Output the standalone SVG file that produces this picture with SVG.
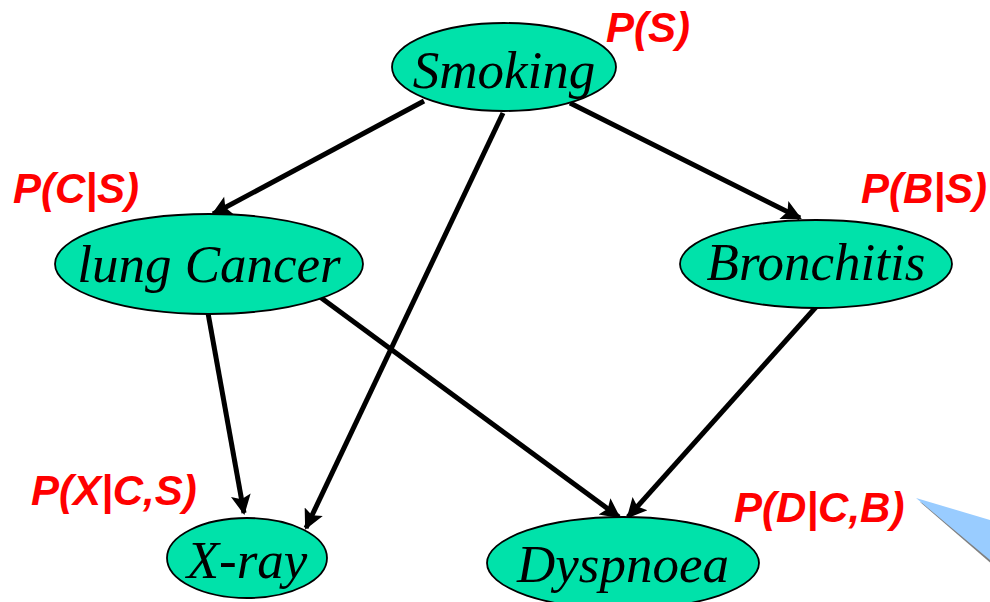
<svg xmlns="http://www.w3.org/2000/svg" width="990" height="602" viewBox="0 0 990 602">
<style>
.node{fill:#00E2AA;stroke:#000;stroke-width:1.8}
.nt{font-family:"Liberation Serif",serif;font-style:italic;font-size:53px;fill:#000;text-anchor:middle}
.pl{font-family:"Liberation Sans",Arial,sans-serif;font-style:italic;font-weight:bold;font-size:42px;fill:#FF0000}
.edge{stroke:#000;stroke-width:5;fill:none;marker-end:url(#ah)}
</style>
<defs>
<marker id="ah" viewBox="0 0 10 10" refX="9" refY="5" markerWidth="4.4" markerHeight="4" orient="auto" markerUnits="strokeWidth">
<path d="M0,0 L10,5 L0,10 L2,5 z" fill="#000"/>
</marker>
</defs>
<rect width="990" height="602" fill="#fff"/>
<g id="callout">
<polygon points="920,502 994,524 994,566" fill="#808080"/>
<polygon points="916,498 990,520 990,560" fill="#99CCFF"/>
</g>
<g id="edges">
<line class="edge" x1="424" y1="101" x2="213" y2="214"/>
<line class="edge" x1="503" y1="113" x2="306" y2="528"/>
<line class="edge" x1="570" y1="103" x2="800" y2="218"/>
<line class="edge" x1="208" y1="313" x2="244" y2="513"/>
<line class="edge" x1="320" y1="297" x2="619" y2="517"/>
<line class="edge" x1="816" y1="307" x2="628" y2="517"/>
</g>
<g id="smoking">
<ellipse class="node" cx="504" cy="67" rx="112" ry="44"/>
<text class="nt" x="504" y="88">Smoking</text>
</g>
<g id="cancer">
<ellipse class="node" cx="209" cy="264" rx="154" ry="50"/>
<text class="nt" x="209" y="282">lung Cancer</text>
</g>
<g id="bronchitis">
<ellipse class="node" cx="816" cy="264" rx="136" ry="44"/>
<text class="nt" x="816" y="280">Bronchitis</text>
</g>
<g id="xray">
<ellipse class="node" cx="247" cy="558" rx="80" ry="40"/>
<text class="nt" x="247" y="578">X-ray</text>
</g>
<g id="dyspnoea">
<ellipse class="node" cx="623" cy="563" rx="136" ry="46"/>
<text class="nt" x="623" y="582">Dyspnoea</text>
</g>
<g id="labels">
<text class="pl" x="606" y="42">P(S)</text>
<text class="pl" x="13" y="203">P(C|S)</text>
<text class="pl" x="861" y="203">P(B|S)</text>
<text class="pl" x="31" y="505">P(X|C,S)</text>
<text class="pl" x="734" y="522">P(D|C,B)</text>
</g>
</svg>
